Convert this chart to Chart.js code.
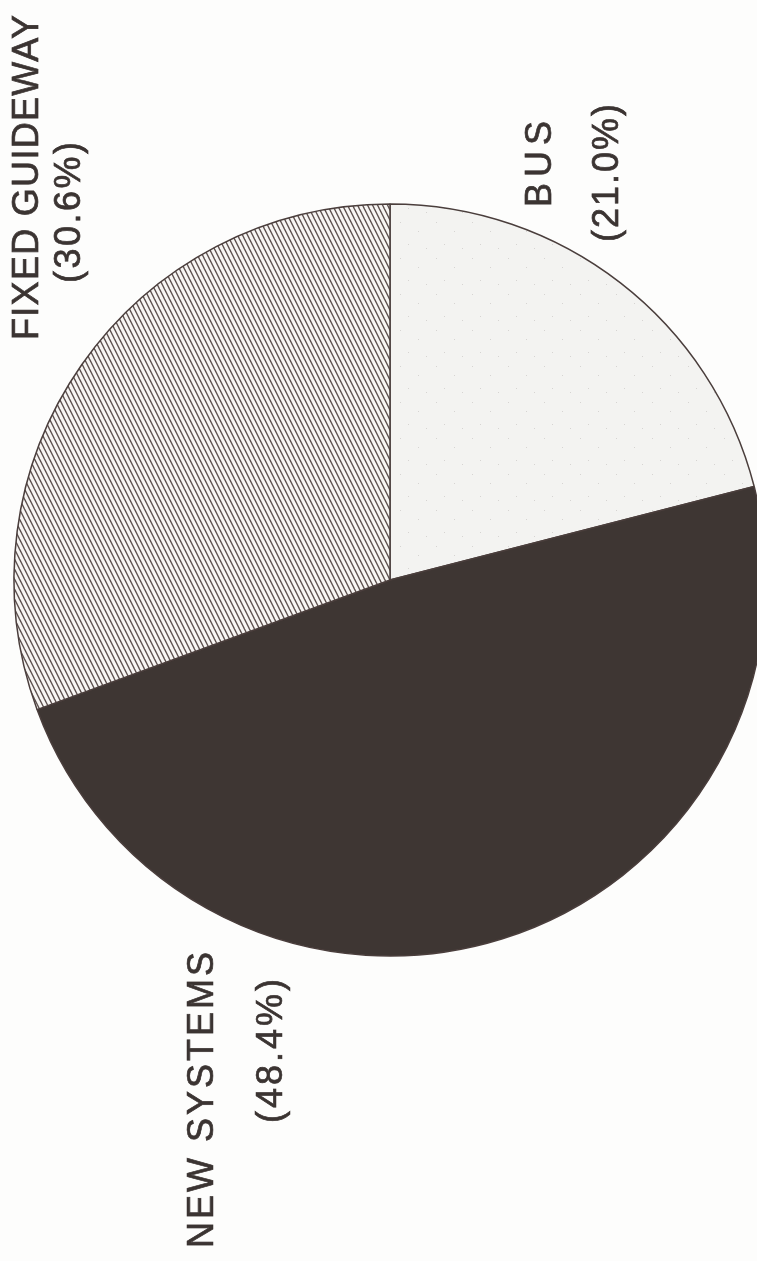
<!DOCTYPE html>
<html>
<head>
<meta charset="utf-8">
<script src="https://cdn.jsdelivr.net/npm/chart.js@4/dist/chart.umd.min.js"></script>
<style>
  html, body { margin: 0; padding: 0; background: #fdfdfc; overflow: hidden; }
  #wrap { position: relative; width: 757px; height: 1261px; overflow: hidden; }
  #pieCanvas { position: absolute; left: 0; top: 0; }
  .lbl {
    position: absolute;
    transform-origin: 0 0;
    transform: rotate(-90deg) translateY(-50%);
    white-space: nowrap;
    font-family: "Liberation Sans", Arial, sans-serif;
    font-size: 36px;
    color: #3b3432;
    -webkit-text-stroke: 0.7px #3b3432;
    line-height: 1;
  }
</style>
</head>
<body>
<div id="wrap">
  <canvas id="pieCanvas" width="780" height="1261"></canvas>
</div>
<script>
// data
var categories = ["BUS", "NEW SYSTEMS", "FIXED GUIDEWAY"];
var shares = [21.0, 48.4, 30.6];

// where the rotated labels start (bottom end of the text) + letter spacing
var namePos = [[539, 207, 6], [201, 1248, 3], [26, 340, 1.3]];
var sharePos = [[606, 242, 2], [270, 1123, 3], [68, 283, 2.5]];

function stipple() {
  var c = document.createElement("canvas");
  c.width = 36;
  c.height = 36;
  var g = c.getContext("2d");
  g.fillStyle = "#f3f3f1";
  g.fillRect(0, 0, 36, 36);
  g.fillStyle = "#d6d4d2";
  g.fillRect(4, 6, 1, 1);
  g.fillRect(22, 15, 1, 1);
  g.fillRect(12, 28, 1, 1);
  g.fillRect(30, 32, 1, 1);
  return g.createPattern(c, "repeat");
}

function hatch() {
  var c = document.createElement("canvas");
  c.width = 5;
  c.height = 10;
  var g = c.getContext("2d");
  g.fillStyle = "#f7f5f3";
  g.fillRect(0, 0, 5, 10);
  g.strokeStyle = "#5b4f4d";
  g.lineWidth = 1.4;
  for (var k = -1; k <= 1; k++) {
    g.beginPath();
    g.moveTo(-5 + k * 5, -10);
    g.lineTo(10 + k * 5, 20);
    g.stroke();
  }
  return g.createPattern(c, "repeat");
}

var ctx = document.getElementById("pieCanvas").getContext("2d");
var pieChart = new Chart(ctx, {
  type: "pie",
  data: {
    labels: categories,
    datasets: [
      {
        data: shares,
        backgroundColor: [stipple(), "#3e3633", hatch()],
        borderColor: "#4a3e3c",
        borderWidth: 1.5,
        hoverOffset: 0,
      },
    ],
  },
  options: {
    responsive: false,
    animation: false,
    radius: 376,
    layout: { padding: { left: 14, right: 14, top: 204, bottom: 305 } },
    plugins: {
      legend: { display: false },
      tooltip: { enabled: false },
    },
  },
});

// rotated labels, reading bottom to top
var wrap = document.getElementById("wrap");
function addLabel(text, pos) {
  var d = document.createElement("div");
  d.className = "lbl";
  d.textContent = text;
  d.style.left = pos[0] + "px";
  d.style.top = pos[1] + "px";
  d.style.letterSpacing = pos[2] + "px";
  wrap.appendChild(d);
}
for (var i = 0; i < categories.length; i++) {
  addLabel(categories[i], namePos[i]);
  addLabel("(" + shares[i].toFixed(1) + "%)", sharePos[i]);
}
</script>
</body>
</html>
